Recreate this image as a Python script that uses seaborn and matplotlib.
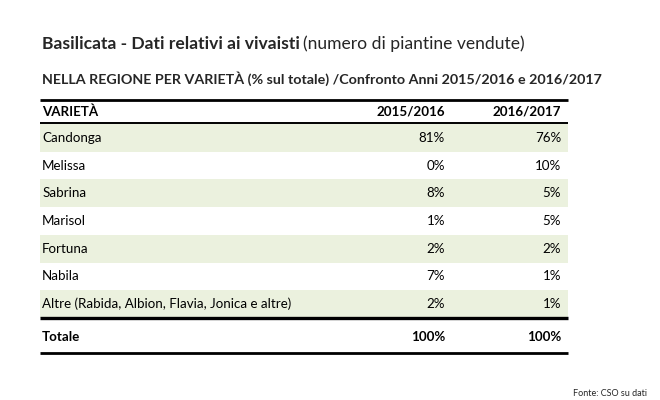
import numpy as np
import matplotlib.pyplot as plt
import seaborn as sns
from matplotlib.colors import ListedColormap

varieta = ["Candonga", "Melissa", "Sabrina", "Marisol", "Fortuna", "Nabila",
           "Altre (Rabida, Albion, Flavia, Jonica e altre)"]
anno_1516 = [81, 0, 8, 1, 2, 7, 2]
anno_1617 = [76, 10, 5, 5, 2, 1, 1]
colonne = ["VARIETÀ", "2015/2016", "2016/2017"]
totale = ["Totale", 100, 100]

sns.set_style("white")
plt.rcParams["font.family"] = ["Lato", "DejaVu Sans"]

W, H = 660, 400
fig = plt.figure(figsize=(6.6, 4.0), dpi=100)

# table body axes, pixel box: x 40..568, y 124..318
x0, x1, y0, y1 = 40, 568, 124, 318
ax = fig.add_axes([x0 / W, 1 - y1 / H, (x1 - x0) / W, (y1 - y0) / H])

n = len(varieta)
stripes = np.array([[i % 2 == 0] for i in range(n)], dtype=float)
sns.heatmap(stripes, cmap=ListedColormap(["white", "#EBF1DE"]), cbar=False,
            xticklabels=False, yticklabels=False, ax=ax)
ax.set_xlim(0, 1)
ax.set_ylim(n, 0)
ax.axis("off")

row_px = (y1 - y0) / n
def py(p):
    return (p - y0) / row_px

xl, xc1, xc2 = 0.004, 0.767, 0.987
fs = 9.6
kw = dict(fontsize=fs, color="black", va="center", clip_on=False)

# header
hy = py(112)
ax.text(xl, hy, colonne[0], ha="left", fontweight="bold", **kw)
ax.text(xc1, hy, colonne[1], ha="right", fontweight="bold", **kw)
ax.text(xc2, hy, colonne[2], ha="right", fontweight="bold", **kw)

for i, (v, a, b) in enumerate(zip(varieta, anno_1516, anno_1617)):
    ax.text(xl, i + 0.5, v, ha="left", **kw)
    ax.text(xc1, i + 0.5, f"{a}%", ha="right", **kw)
    ax.text(xc2, i + 0.5, f"{b}%", ha="right", **kw)

ty = py(337)
ax.text(xl, ty, totale[0], ha="left", fontweight="bold", **kw)
ax.text(xc1, ty, f"{totale[1]}%", ha="right", fontweight="bold", **kw)
ax.text(xc2, ty, f"{totale[2]}%", ha="right", fontweight="bold", **kw)

for ypx, lw in [(100, 2.0), (123, 1.4), (318, 2.4), (353, 2.0)]:
    ax.plot([0, 1], [py(ypx), py(ypx)], color="black", lw=lw,
            clip_on=False, solid_capstyle="butt")

fig.text(42 / W, 1 - 44 / H, "Basilicata - Dati relativi ai vivaisti",
         fontsize=12.6, fontweight="bold", va="center", ha="left")
t = fig.texts[-1]
fig.canvas.draw()
bb = t.get_window_extent()
fig.text(bb.x1 / W + 0.005, 1 - 44 / H, "(numero di piantine vendute)",
         fontsize=12.6, va="center", ha="left")
fig.text(42 / W, 1 - 79 / H,
         "NELLA REGIONE PER VARIETÀ (% sul totale) /Confronto Anni 2015/2016 e 2016/2017",
         fontsize=10.3, fontweight="bold", va="center", ha="left")
fig.text(573 / W, 1 - 394 / H, "Fonte: CSO su dati", fontsize=6.5,
         va="center", ha="left")

fig.savefig("out.png", dpi=100)
